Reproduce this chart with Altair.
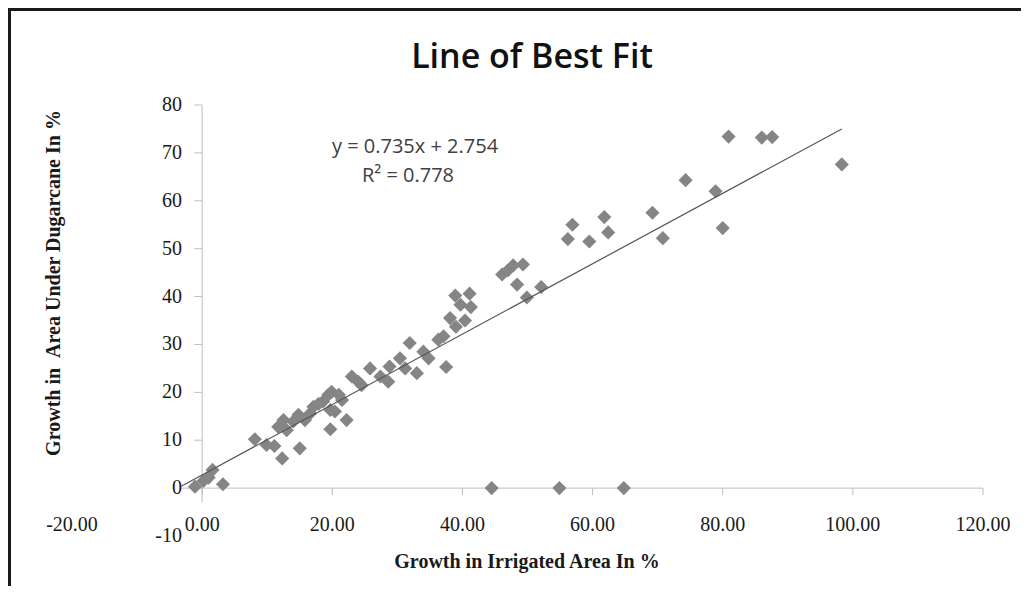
import altair as alt
import pandas as pd

# ---- data ----
x_vals = [-1.1, 0.2, 1.0, 1.6, 3.2, 8.1, 9.9, 11.1, 12.3, 15.0,
          11.7, 12.5, 13.0, 14.0, 14.8, 15.8, 16.6, 17.1, 17.9, 18.6,
          19.4, 19.9, 19.7, 20.4, 19.7, 21.0, 21.5, 22.2, 23.0, 24.0,
          24.5, 25.8, 27.4, 28.6, 28.8, 30.4, 31.2, 31.9, 33.0, 34.0,
          34.8, 36.3, 37.1, 37.5, 38.1, 39.0, 40.4, 38.9, 39.7, 41.1,
          41.3, 44.5, 46.1, 47.0, 47.8, 49.3, 48.4, 49.9, 52.1, 54.9,
          56.2, 56.9, 59.5, 61.8, 62.4, 64.8, 69.2, 70.8, 74.3, 78.9,
          80.0, 80.9, 86.0, 87.6, 98.3]
y_vals = [0.3, 1.5, 2.2, 3.8, 0.8, 10.2, 9.0, 8.8, 6.2, 8.3,
          12.8, 14.2, 12.1, 13.9, 15.3, 14.2, 15.6, 17.0, 17.6, 18.1,
          19.5, 20.1, 16.3, 16.0, 12.3, 19.5, 18.4, 14.2, 23.3, 22.2,
          21.5, 25.0, 23.3, 22.2, 25.4, 27.1, 25.0, 30.3, 24.0, 28.5,
          27.1, 31.0, 31.7, 25.3, 35.5, 33.7, 35.0, 40.2, 38.3, 40.6,
          37.8, 0.0, 44.6, 45.5, 46.5, 46.7, 42.5, 39.8, 42.0, 0.0,
          52.0, 55.0, 51.5, 56.6, 53.4, 0.0, 57.5, 52.2, 64.3, 62.0,
          54.3, 73.4, 73.2, 73.3, 67.6]

trend_x = [-3.2, 98.3]
trend_y = [0.40, 75.0]

x_ticks = [-20, 0, 20, 40, 60, 80, 100, 120]
y_ticks = [-10, 0, 10, 20, 30, 40, 50, 60, 70, 80]
x_domain = [-20, 120]
y_domain = [-10, 80]
x_axis_span = [-3.2, 120]
y_axis_span = [-3, 80]

title_text = "Line of Best Fit"
x_title = "Growth in Irrigated Area In %"
y_title = "Growth in \u00a0Area Under Dugarcane In %"
eq_text = "y = 0.735x + 2.754"
r2_text = "R\u00b2 = 0.778"

# ---- layout ----
W, H = 911, 431
SERIF = "Liberation Serif"
SANS = "Open Sans"
AXIS_GRAY = "#bfbfbf"
TXT = "#1a1a1a"

xs = alt.Scale(domain=x_domain, nice=False, zero=False)
ys = alt.Scale(domain=y_domain, nice=False, zero=False)

pts = pd.DataFrame({"x": x_vals, "y": y_vals})
trend = pd.DataFrame({"x": trend_x, "y": trend_y})
xline = pd.DataFrame({"x": [x_axis_span[0]], "x2": [x_axis_span[1]], "y": [0]})
yline = pd.DataFrame({"x": [0], "y": [y_axis_span[0]], "y2": [y_axis_span[1]]})
xt = pd.DataFrame({"x": x_ticks, "y": [0] * len(x_ticks),
                   "label": [f"{v:.2f}" for v in x_ticks]})
yt = pd.DataFrame({"x": [0] * len(y_ticks), "y": y_ticks,
                   "label": [str(v) for v in y_ticks]})
one = pd.DataFrame({"a": [0]})


def X(field="x"):
    return alt.X(f"{field}:Q", scale=xs, axis=None)


def Y(field="y"):
    return alt.Y(f"{field}:Q", scale=ys, axis=None)


frame = alt.Chart(one).mark_rect(
    fillOpacity=0, stroke="#1a1a1a", strokeWidth=3
).encode(x=alt.value(-62.5), x2=alt.value(1000), y=alt.value(-95.5), y2=alt.value(800))

xrule = alt.Chart(xline).mark_rule(color=AXIS_GRAY, strokeWidth=1).encode(
    x=X(), x2="x2:Q", y=Y())
yrule = alt.Chart(yline).mark_rule(color=AXIS_GRAY, strokeWidth=1).encode(
    x=X(), y=Y(), y2="y2:Q")

xtick_marks = alt.Chart(xt).transform_filter("datum.x >= 0").mark_tick(
    orient="vertical", size=7, thickness=1, yOffset=3.5, color=AXIS_GRAY, opacity=1
).encode(x=X(), y=Y())
ytick_marks = alt.Chart(yt).transform_filter("datum.y >= 0").mark_tick(
    orient="horizontal", size=8, thickness=1, xOffset=-4, color=AXIS_GRAY, opacity=1
).encode(x=X(), y=Y())

xlabels = alt.Chart(xt).mark_text(
    font=SERIF, fontSize=20, color=TXT, align="center", baseline="middle"
).encode(x=X(), y=alt.value(419.5), text="label:N")
ylabels = alt.Chart(yt).mark_text(
    font=SERIF, fontSize=20, color=TXT, align="right", baseline="middle"
).encode(x=alt.value(110), y=Y(), text="label:N")

xtitle = alt.Chart(one).mark_text(
    text=x_title, font=SERIF, fontSize=20, fontWeight="bold", color=TXT,
    align="center", baseline="alphabetic"
).encode(x=alt.value(455), y=alt.value(463))
ytitle = alt.Chart(one).mark_text(
    text=y_title, font=SERIF, fontSize=20, fontWeight="bold", color=TXT,
    align="center", baseline="middle", angle=270
).encode(x=alt.value(-18), y=alt.value(178))

points = alt.Chart(pts).mark_point(
    shape="diamond", filled=True, size=200, color="#858585", opacity=1
).encode(x=X(), y=Y())

line = alt.Chart(trend).mark_line(color="#555555", strokeWidth=1.2).encode(x=X(), y=Y())

eq = alt.Chart(one).mark_text(
    text=eq_text, font=SANS, fontSize=20, color="#404040", align="center", baseline="middle"
).encode(x=alt.value(343), y=alt.value(42))
r2 = alt.Chart(one).mark_text(
    text=r2_text, font=SANS, fontSize=20, color="#404040", align="center", baseline="middle"
).encode(x=alt.value(336), y=alt.value(71))

title = alt.Chart(one).mark_text(
    text=title_text, font=SANS, fontSize=34, fontWeight=600, color="#111111",
    align="center", baseline="alphabetic"
).encode(x=alt.value(460), y=alt.value(-37))

chart = alt.layer(
    frame, xrule, yrule, xtick_marks, ytick_marks, xlabels, ylabels,
    xtitle, ytitle, points, line, eq, r2, title
).properties(
    width=W, height=H,
    autosize=alt.AutoSizeParams(type="none"),
    padding={"left": 64, "top": 97, "right": 38, "bottom": 50},
    background="white",
).configure_view(stroke=None)

chart.save("out.html", embed_options={"renderer": "svg", "actions": False})
